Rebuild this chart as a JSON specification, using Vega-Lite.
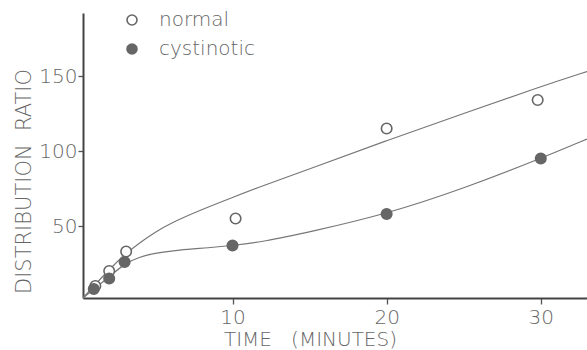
{
  "$schema": "https://vega.github.io/schema/vega-lite/v6.json",
  "width": 504,
  "height": 285,
  "autosize": "none",
  "padding": {"left": 83, "top": 13, "right": 0, "bottom": 52},
  "background": "white",
  "config": {
    "view": {"stroke": null},
    "font": "DejaVu Sans",
    "axis": {
      "domainColor": "#444",
      "domainWidth": 2,
      "tickColor": "#555",
      "tickWidth": 1.3,
      "grid": false,
      "labelFont": "DejaVu Sans",
      "labelFontWeight": 200,
      "labelColor": "#666",
      "labelFontSize": 20,
      "titleFont": "DejaVu Sans",
      "titleFontWeight": 200,
      "titleColor": "#666",
      "titleFontSize": 20
    }
  },
  "layer": [
    {
      "data": {
        "values": [
          {"group": "normal", "t": 0.3, "r": 2},
          {"group": "normal", "t": 1, "r": 10},
          {"group": "normal", "t": 2, "r": 21},
          {"group": "normal", "t": 3, "r": 31},
          {"group": "normal", "t": 4, "r": 39},
          {"group": "normal", "t": 5, "r": 46},
          {"group": "normal", "t": 6, "r": 52},
          {"group": "normal", "t": 8, "r": 61},
          {"group": "normal", "t": 10, "r": 69},
          {"group": "normal", "t": 12, "r": 77},
          {"group": "normal", "t": 15, "r": 88},
          {"group": "normal", "t": 20, "r": 107},
          {"group": "normal", "t": 25, "r": 125},
          {"group": "normal", "t": 30, "r": 143},
          {"group": "normal", "t": 33, "r": 153},
          {"group": "cystinotic", "t": 0.3, "r": 2},
          {"group": "cystinotic", "t": 1, "r": 8},
          {"group": "cystinotic", "t": 2, "r": 16},
          {"group": "cystinotic", "t": 3, "r": 25},
          {"group": "cystinotic", "t": 4, "r": 29.5},
          {"group": "cystinotic", "t": 5, "r": 32},
          {"group": "cystinotic", "t": 6.5, "r": 34},
          {"group": "cystinotic", "t": 8.5, "r": 35.5},
          {"group": "cystinotic", "t": 10, "r": 37},
          {"group": "cystinotic", "t": 12, "r": 39.5},
          {"group": "cystinotic", "t": 15, "r": 46},
          {"group": "cystinotic", "t": 20, "r": 58},
          {"group": "cystinotic", "t": 25, "r": 75},
          {"group": "cystinotic", "t": 30, "r": 95},
          {"group": "cystinotic", "t": 33, "r": 108}
        ]
      },
      "mark": {"type": "line", "interpolate": "basis", "color": "#777", "strokeWidth": 1.2, "clip": true},
      "encoding": {
        "x": {"field": "t", "type": "quantitative", "scale": {"domain": [0.3, 33]}},
        "y": {"field": "r", "type": "quantitative", "scale": {"domain": [2, 192]}},
        "detail": {"field": "group"}
      }
    },
    {
      "data": {
        "values": [
          {"group": "normal", "t": 1.1, "r": 10},
          {"group": "normal", "t": 2.0, "r": 20},
          {"group": "normal", "t": 3.1, "r": 33},
          {"group": "normal", "t": 10.2, "r": 55},
          {"group": "normal", "t": 20, "r": 115},
          {"group": "normal", "t": 29.8, "r": 134},
          {"group": "cystinotic", "t": 1.0, "r": 8},
          {"group": "cystinotic", "t": 2.0, "r": 15},
          {"group": "cystinotic", "t": 3.0, "r": 26},
          {"group": "cystinotic", "t": 10, "r": 37},
          {"group": "cystinotic", "t": 20, "r": 58},
          {"group": "cystinotic", "t": 30, "r": 95}
        ]
      },
      "mark": {"type": "point", "shape": "circle", "filled": true, "stroke": "#666", "strokeWidth": 1.6, "size": 110, "opacity": 1},
      "encoding": {
        "x": {
          "field": "t", "type": "quantitative",
          "scale": {"domain": [0.3, 33]},
          "axis": {
            "values": [10, 20, 30],
            "tickSize": 6,
            "labelPadding": 3,
            "title": "TIME\u00a0\u00a0\u00a0(MINUTES)",
            "titleX": 227,
            "titleY": 41,
            "titleBaseline": "middle",
            "titleAlign": "center"
          }
        },
        "y": {
          "field": "r", "type": "quantitative",
          "scale": {"domain": [2, 192]},
          "axis": {
            "values": [50, 100, 150],
            "tickSize": 5,
            "labelPadding": 1,
            "title": "DISTRIBUTION\u00a0\u00a0RATIO",
            "titleFontSize": 21,
            "titleX": -59,
            "titleY": 168,
            "titleAngle": -90,
            "titleBaseline": "middle",
            "titleAlign": "center"
          }
        },
        "fill": {
          "field": "group", "type": "nominal",
          "scale": {"domain": ["normal", "cystinotic"], "range": ["white", "#666"]},
          "legend": {
            "title": null,
            "orient": "none",
            "legendX": 39,
            "legendY": -3,
            "symbolType": "circle",
            "symbolSize": 100,
            "symbolStrokeColor": "#666",
            "symbolStrokeWidth": 1.6,
            "labelFont": "DejaVu Sans",
            "labelFontWeight": 200,
            "labelFontSize": 20,
            "labelColor": "#666",
            "labelOffset": 17,
            "rowPadding": 9
          }
        }
      }
    }
  ]
}
